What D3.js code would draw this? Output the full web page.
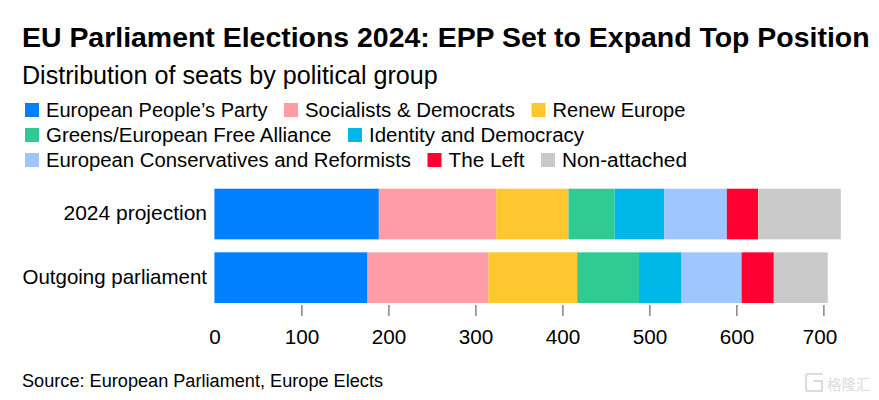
<!DOCTYPE html>
<html>
<head>
<meta charset="utf-8">
<script src="https://cdnjs.cloudflare.com/ajax/libs/d3/7.8.5/d3.min.js"></script>
<style>
  html, body { margin: 0; padding: 0; background: #fff; }
  text { font-family: "Liberation Sans", Arial, sans-serif; fill: #000; }
</style>
</head>
<body>
<div id="wrapper"></div>
<script>
const groups = ["European People’s Party", "Socialists & Democrats", "Renew Europe",
  "Greens/European Free Alliance", "Identity and Democracy",
  "European Conservatives and Reformists", "The Left", "Non-attached"];
const groupColors = ["#0080ff", "#ff9ca5", "#ffc72f", "#2fcb92", "#00b7ea", "#9fc6ff", "#ff0033", "#c9c9c9"];
const rows = ["2024 projection", "Outgoing parliament"];
const projection = [189, 135, 83, 53, 57, 72, 36, 95];
const outgoing = [176, 139, 102, 71, 49, 69, 37, 62];
const seats = [projection, outgoing];
const ticks = [0, 100, 200, 300, 400, 500, 600, 700];
const legendRows = [[0, 1, 2], [3, 4], [5, 6, 7]];

// the original font runs a little wider or narrower per label, so fit to measured widths
const legendWidths = [221.5, 210, 133, 285.5, 215, 365, 76, 125];
const rowLabelWidths = [143.5, 184.5];

const dimension = { width: 879, height: 400 };
const svg = d3.select("#wrapper").append("svg")
  .attr("width", dimension.width)
  .attr("height", dimension.height)
  .style("display", "block");

svg.append("text").attr("x", 22).attr("y", 47)
  .attr("font-size", 28.45).attr("font-weight", 700)
  .text("EU Parliament Elections 2024: EPP Set to Expand Top Position");
svg.append("text").attr("x", 22).attr("y", 84)
  .attr("font-size", 25.1)
  .text("Distribution of seats by political group");

// legend, laid out as a flow so each swatch follows the previous label
legendRows.forEach((row, r) => {
  let x = 25;
  const y = 110 + r * 25;
  row.forEach(i => {
    svg.append("rect").attr("x", x).attr("y", y - 7).attr("width", 14).attr("height", 14)
      .attr("fill", groupColors[i]);
    svg.append("text").attr("x", x + 21).attr("y", y + 7)
      .attr("font-size", 20.35)
      .attr("textLength", legendWidths[i]).attr("lengthAdjust", "spacingAndGlyphs")
      .text(groups[i]);
    x += 21 + legendWidths[i] + 16.5;
  });
});

const xScale = d3.scaleLinear().domain([0, 700]).range([214.4, 823.4]);
const yScale = d3.scaleBand().domain(rows).range([188.7, 303]).paddingInner(0.204);

rows.forEach((row, r) => {
  const g = svg.append("g");
  const stack = d3.cumsum(seats[r]);
  g.selectAll("rect").data(seats[r]).join("rect")
    .attr("x", (d, i) => xScale(stack[i] - d))
    .attr("width", d => xScale(d) - xScale(0))
    .attr("y", yScale(row))
    .attr("height", yScale.bandwidth())
    .attr("fill", (d, i) => groupColors[i]);
});

const yAxis = svg.append("g")
  .attr("transform", "translate(207,0)")
  .call(d3.axisLeft(yScale).tickSize(0).tickPadding(0));
yAxis.select(".domain").remove();
yAxis.selectAll("text").attr("font-size", 20.7).attr("font-family", null).attr("dy", "0.29em")
  .attr("textLength", (d, i) => rowLabelWidths[i]).attr("lengthAdjust", "spacingAndGlyphs");

const xAxis = svg.append("g")
  .attr("transform", "translate(0,305)")
  .call(d3.axisBottom(xScale).tickValues(ticks).tickSize(11).tickPadding(13));
xAxis.select(".domain").remove();
xAxis.selectAll(".tick line").attr("stroke", "#666").attr("stroke-width", 1.2)
  .filter(d => d === 0).remove();
xAxis.selectAll("text").attr("font-size", 20.7).attr("font-family", null)
  .attr("dx", d => d === 700 ? -4 : 0); // last label sits left of its tick in the original

svg.append("text").attr("x", 22).attr("y", 387)
  .attr("font-size", 18.15)
  .text("Source: European Parliament, Europe Elects");

// faint watermark in the corner
svg.append("text").attr("x", 827).attr("y", 390)
  .attr("font-size", 14.5).style("font-family", "'Noto Sans CJK SC'").style("fill", "#dcdcdc")
  .text("格隆汇");
svg.append("path")
  .attr("d", "M823 374H808a2 2 0 0 0-2 2V389a2 2 0 0 0 2 2H822V381H813")
  .attr("fill", "none").attr("stroke", "#dcdcdc").attr("stroke-width", 2.2);
</script>
</body>
</html>
